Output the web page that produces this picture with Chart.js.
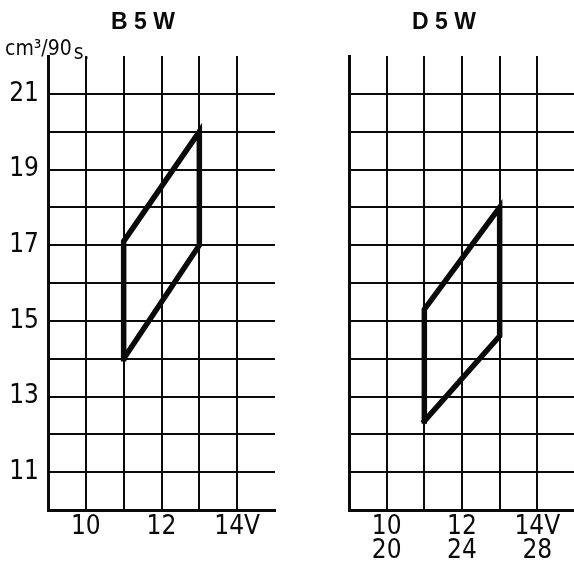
<!DOCTYPE html>
<html>
<head>
<meta charset="utf-8">
<script src="https://cdn.jsdelivr.net/npm/chart.js@4.4.1/dist/chart.umd.min.js"></script>
<style>
  html, body { margin: 0; padding: 0; background: #fff; }
  body { width: 574px; height: 563px; position: relative; overflow: hidden; }
  #wrapB { position: absolute; left: 0; top: 0; width: 290px; height: 563px; }
  #wrapD { position: absolute; left: 290px; top: 0; width: 290px; height: 563px; }
</style>
</head>
<body>
<div id="wrapB"><canvas id="chartB" width="290" height="563"></canvas></div>
<div id="wrapD"><canvas id="chartD" width="290" height="563"></canvas></div>
<script>
// ---- data ----
const titleB = 'B 5 W';
const titleD = 'D 5 W';
const yUnit = 'cm³/90';
const yUnitSuffix = 's.';

// parallelogram corners (volts, cm³/90 s), closed back to the start
const voltsB = [11, 13, 13, 11, 11];
const flowB  = [14, 17, 20, 17.1, 14];
const voltsD = [11, 13, 13, 11, 11];
const flowD  = [12.35, 14.6, 18, 15.3, 12.35];

const yTickValues = [11, 13, 15, 17, 19, 21];
const xTickValues = [10, 12, 14];
const xTickLabels = ['10', '12', '14V'];
const xTickLabels2 = ['20', '24', '28'];

// ---- styling ----
const INK = '#0a0a0a';
const NARROW = '"Liberation Sans Narrow", "DejaVu Sans Condensed", "Roboto Condensed", sans-serif';

function titlePlugin(text, cx, cy, withUnit) {
  return {
    id: 'texts',
    afterDraw(chart) {
      const ctx = chart.ctx;
      ctx.save();
      ctx.fillStyle = INK;
      ctx.font = 'bold 23px "Liberation Sans", Arial, sans-serif';
      ctx.textAlign = 'center';
      ctx.textBaseline = 'middle';
      ctx.fillText(text, cx, cy);
      if (withUnit) {
        ctx.textAlign = 'left';
        ctx.textBaseline = 'alphabetic';
        ctx.font = '21px "DejaVu Sans Condensed", "DejaVu Sans", sans-serif';
        ctx.fillText(yUnit, 5, 55);
        const w = ctx.measureText(yUnit).width;
        ctx.fillText(yUnitSuffix, 5 + w + 2, 59);
      }
      ctx.restore();
    }
  };
}

function makeChart(id, volts, flow, opts) {
  const pts = volts.map((v, i) => ({ x: v, y: flow[i] }));
  return new Chart(document.getElementById(id), {
    type: 'scatter',
    data: {
      datasets: [{
        data: pts,
        showLine: true,
        borderColor: INK,
        borderWidth: 5.5,
        borderJoinStyle: 'miter',
        borderCapStyle: 'square',
        pointRadius: 0,
        pointHoverRadius: 0,
        tension: 0,
        fill: false
      }]
    },
    options: {
      responsive: false,
      animation: false,
      events: [],
      layout: { padding: { left: 0, right: opts.rightPad, top: 56, bottom: 0 } },
      plugins: { legend: { display: false }, tooltip: { enabled: false }, title: { display: false } },
      scales: {
        x: {
          type: 'linear',
          min: 9, max: 15,
          afterFit(scale) { scale.height = 563 - 56 - 454; },
          border: { display: true, color: INK, width: 3 },
          grid: {
            drawTicks: false,
            lineWidth: 2,
            color: (c) => (c.tick && c.tick.value === 15) ? 'rgba(0,0,0,0)' : INK
          },
          ticks: {
            stepSize: 1,
            autoSkip: false,
            maxRotation: 0,
            padding: 5,
            color: INK,
            font: { family: NARROW, size: 26, lineHeight: 0.92 },
            callback: opts.xCallback
          }
        },
        y: {
          type: 'linear',
          min: 10, max: 22,
          afterFit(scale) { scale.width = opts.leftWidth; },
          border: { display: true, color: INK, width: 3 },
          grid: {
            drawTicks: false,
            lineWidth: 2,
            color: (c) => (c.tick && c.tick.value === 22) ? 'rgba(0,0,0,0)' : INK
          },
          ticks: {
            display: opts.yLabels,
            stepSize: 1,
            autoSkip: false,
            padding: 9,
            color: INK,
            font: { family: NARROW, size: 26 },
            callback: (v) => yTickValues.includes(v) ? String(v) : ''
          }
        }
      }
    },
    plugins: [opts.textPlugin]
  });
}

makeChart('chartB', voltsB, flowB, {
  rightPad: 15,
  leftWidth: 48,
  yLabels: true,
  xCallback: (v) => { const i = xTickValues.indexOf(v); return i >= 0 ? xTickLabels[i] : ''; },
  textPlugin: titlePlugin(titleB, 143, 23, true)
});

makeChart('chartD', voltsD, flowD, {
  rightPad: 0,
  leftWidth: 59,
  yLabels: false,
  xCallback: (v) => { const i = xTickValues.indexOf(v); return i >= 0 ? [xTickLabels[i], xTickLabels2[i]] : ''; },
  textPlugin: titlePlugin(titleD, 154, 23, false)
});
</script>
</body>
</html>
